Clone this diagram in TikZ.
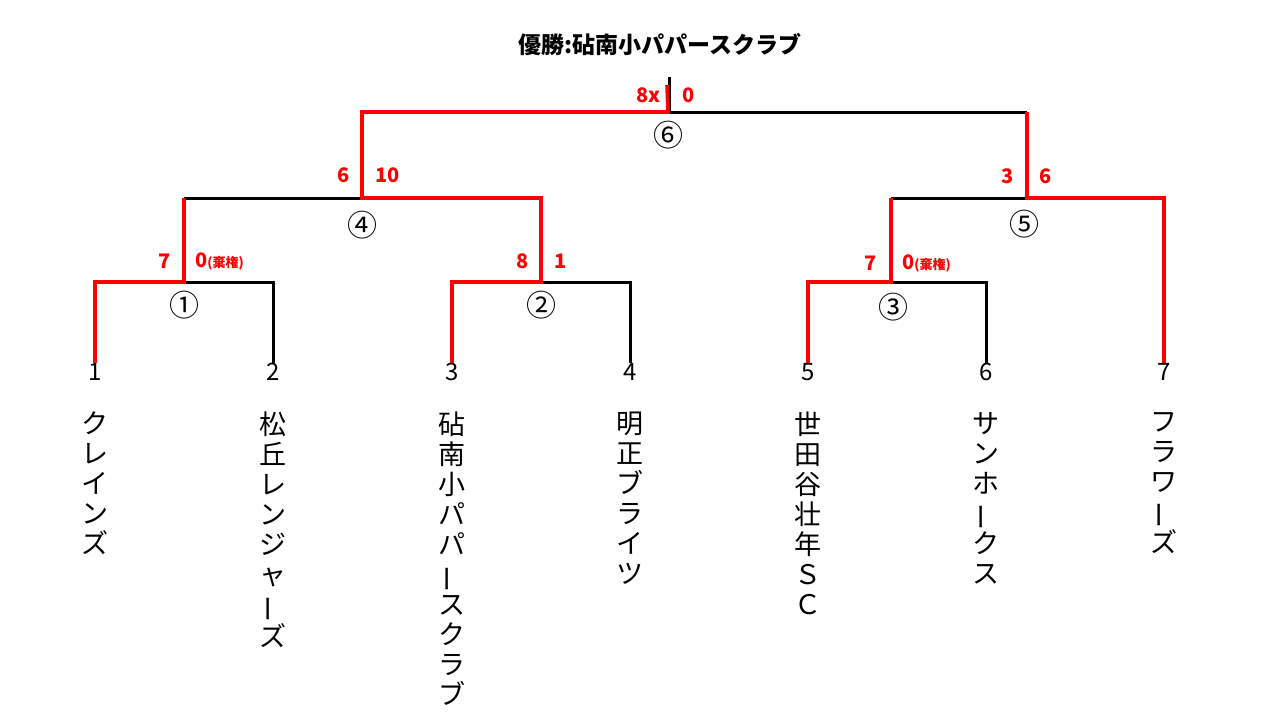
\documentclass[tikz,border=0pt]{standalone}
\usepackage{fontspec}
\setmainfont{Noto Sans CJK JP}
\newcommand{\tatebar}{\rotatebox[origin=c]{90}{ー}}
\tikzset{
  win/.style={red, line width=3.6pt},
  lose/.style={black, line width=3pt},
  seed/.style={inner sep=0pt, font=\fontsize{24}{24}\selectfont},
  team/.style={inner sep=0pt, anchor=north, align=center, font=\fontsize{27}{30}\selectfont},
  score/.style={inner sep=0pt, text=red, font=\bfseries\fontsize{20}{20}\selectfont},
  round/.style={inner sep=0pt, font=\fontsize{30}{30}\selectfont}
}
\newcommand{\kiken}{{\fontsize{13}{13}\selectfont(棄権)}}
\begin{document}
\begin{tikzpicture}[x=1pt, y=-1pt]
    \useasboundingbox (0,0) rectangle (1280,720);

    % Title
    \node[inner sep=0pt, font=\bfseries\fontsize{23}{23}\selectfont] (title) at (660,45) {優勝:砧南小パパースクラブ};

    % Seed numbers
    \node[seed] (n1) at (95,372) {1};
    \node[seed] (n2) at (273,372) {2};
    \node[seed] (n3) at (452,372) {3};
    \node[seed] (n4) at (630,372) {4};
    \node[seed] (n5) at (808,372) {5};
    \node[seed] (n6) at (986,372) {6};
    \node[seed] (n7) at (1164,372) {7};

    % Team names
    \node[team] (name1) at (95,412) {ク\\レ\\イ\\ン\\ズ};
    \node[team] (name2) at (273,412) {松\\丘\\レ\\ン\\ジ\\ャ\\\tatebar\\ズ};
    \node[team] (name3) at (452,412) {砧\\南\\小\\パ\\パ\\\tatebar\\ス\\ク\\ラ\\ブ};
    \node[team] (name4) at (630,412) {明\\正\\ブ\\ラ\\イ\\ツ};
    \node[team] (name5) at (808,412) {世\\田\\谷\\壮\\年\\Ｓ\\Ｃ};
    \node[team] (name6) at (986,412) {サ\\ン\\ホ\\\tatebar\\ク\\ス};
    \node[team] (name7) at (1164,412) {フ\\ラ\\ワ\\\tatebar\\ズ};

    % Match points
    \coordinate (m1) at (184,282);
    \coordinate (m2) at (541,282);
    \coordinate (m3) at (891,282);
    \coordinate (m4) at (362,198);
    \coordinate (m5) at (1027,198);
    \coordinate (m6) at (668,112);
    \coordinate (top) at (668,77);

    % Losing lines
    \draw[lose] (n2.north) |- (m1);
    \draw[lose] (n4.north) |- (m2);
    \draw[lose] (n6.north) |- (m3);
    \draw[lose] (m1 |- m4) -- (m4);
    \draw[lose] (m3 |- m5) -- (m5);
    \draw[lose] (m5 |- m6) -- (m6);
    \draw[lose] ([xshift=1.5pt]m6) -- ([xshift=1.5pt]top);

    % Winning lines
    \draw[win] (n1.north) |- (m1) -- (m1 |- m4);
    \draw[win] (n3.north) |- (m2) -- (m2 |- m4) -- (m4) -- (m4 |- m6) -- (m6) -- ([xshift=-1pt,yshift=-8pt]top);
    \draw[win] (n5.north) |- (m3) -- (m3 |- m5);
    \draw[win] (n7.north) |- (m5) -- (m5 |- m6);

    % Match numbers
    \node[round] (r1) at (184,305) {①};
    \node[round] (r2) at (541,305) {②};
    \node[round] (r3) at (893,307) {③};
    \node[round] (r4) at (362,225) {④};
    \node[round] (r5) at (1024,224) {⑤};
    \node[round] (r6) at (668,135) {⑥};

    % Scores
    \node[score, anchor=east] (s1l) at (171,261) {7};
    \node[score, anchor=west] (s1r) at (195,261) {0\kiken};
    \node[score, anchor=east] (s2l) at (529,261) {8};
    \node[score, anchor=west] (s2r) at (554,261) {1};
    \node[score, anchor=east] (s3l) at (877,263) {7};
    \node[score, anchor=west] (s3r) at (902,263) {0\kiken};
    \node[score, anchor=east] (s4l) at (350,175) {6};
    \node[score, anchor=west] (s4r) at (375,175) {10};
    \node[score, anchor=east] (s5l) at (1014,176) {3};
    \node[score, anchor=west] (s5r) at (1039,176) {6};
    \node[score, anchor=east] (s6l) at (661,95) {8x};
    \node[score, anchor=west] (s6r) at (682,95) {0};
\end{tikzpicture}
\end{document}
